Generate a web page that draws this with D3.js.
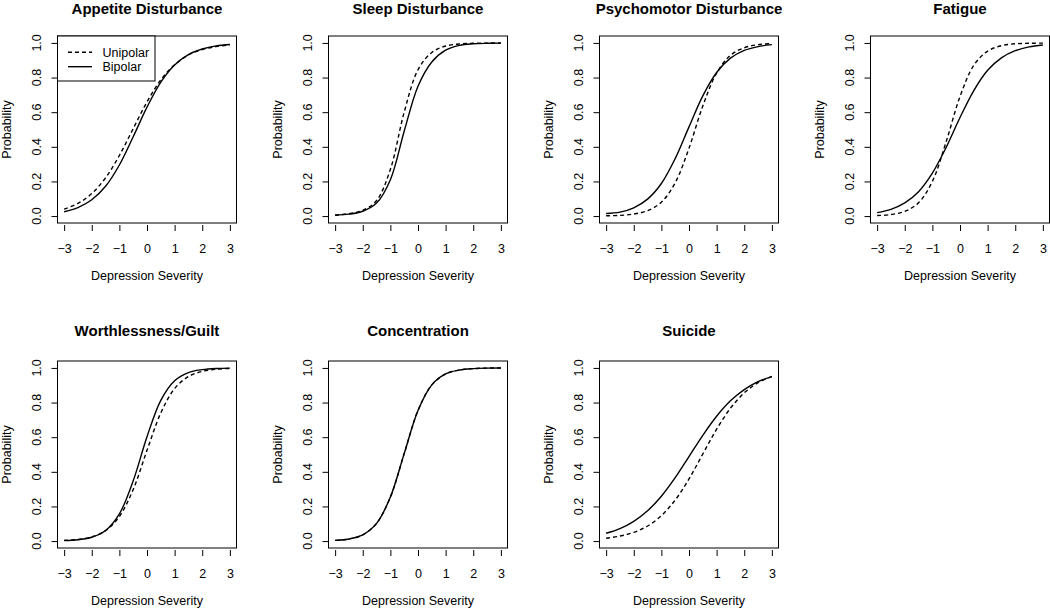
<!DOCTYPE html>
<html><head><meta charset="utf-8">
<script src="https://cdn.jsdelivr.net/npm/d3@7"></script>
<style>
body{margin:0;background:#fff}
svg{display:block}
text{font-family:"Liberation Sans",Arial,Helvetica,sans-serif;fill:#000}
</style>
</head><body>
<svg id="chart" width="1050" height="608"></svg>
<script>
// ---- data ----
const severity = [-3, -2.5, -2, -1.5, -1, -0.5, 0, 0.5, 1, 1.5, 2, 2.5, 3];
const titles = ["Appetite Disturbance", "Sleep Disturbance", "Psychomotor Disturbance", "Fatigue",
                "Worthlessness/Guilt", "Concentration", "Suicide"];
const legendLabels = ["Unipolar", "Bipolar"];
const xTicks = [-3, -2, -1, 0, 1, 2, 3];
const yTicks = [0, 0.2, 0.4, 0.6, 0.8, 1.0];
const xLabel = "Depression Severity";
const yLabel = "Probability";

const appetiteUnipolar    = [0.040, 0.073, 0.130, 0.221, 0.350, 0.505, 0.659, 0.786, 0.874, 0.930, 0.962, 0.979, 0.989];
const appetiteBipolar     = [0.025, 0.049, 0.094, 0.172, 0.295, 0.458, 0.629, 0.774, 0.873, 0.933, 0.965, 0.983, 0.991];
const sleepUnipolar       = [0.006, 0.014, 0.033, 0.090, 0.270, 0.600, 0.845, 0.945, 0.982, 0.994, 0.998, 0.999, 1.000];
const sleepBipolar        = [0.005, 0.011, 0.028, 0.075, 0.210, 0.490, 0.750, 0.890, 0.958, 0.986, 0.995, 0.998, 0.999];
const psychomotorUnipolar = [0.002, 0.004, 0.012, 0.031, 0.080, 0.192, 0.392, 0.636, 0.826, 0.928, 0.972, 0.990, 0.996];
const psychomotorBipolar  = [0.015, 0.023, 0.048, 0.098, 0.188, 0.332, 0.515, 0.694, 0.829, 0.912, 0.957, 0.979, 0.990];
const fatigueUnipolar     = [0.003, 0.009, 0.027, 0.077, 0.200, 0.430, 0.690, 0.871, 0.953, 0.984, 0.995, 0.998, 0.999];
const fatigueBipolar      = [0.020, 0.039, 0.076, 0.141, 0.248, 0.397, 0.569, 0.725, 0.842, 0.914, 0.955, 0.977, 0.988];
const worthUnipolar       = [0.004, 0.009, 0.024, 0.060, 0.142, 0.298, 0.524, 0.740, 0.881, 0.950, 0.980, 0.992, 0.997];
const worthBipolar        = [0.003, 0.008, 0.022, 0.061, 0.157, 0.348, 0.603, 0.813, 0.926, 0.973, 0.990, 0.997, 0.999];
const concUnipolar        = [0.004, 0.012, 0.036, 0.102, 0.254, 0.505, 0.754, 0.902, 0.965, 0.988, 0.996, 0.999, 1.000];
const concBipolar         = [0.004, 0.012, 0.036, 0.102, 0.254, 0.505, 0.754, 0.902, 0.965, 0.988, 0.996, 0.999, 1.000];
const suicideUnipolar     = [0.016, 0.029, 0.050, 0.087, 0.147, 0.237, 0.359, 0.503, 0.646, 0.767, 0.856, 0.915, 0.951];
const suicideBipolar      = [0.045, 0.072, 0.114, 0.175, 0.259, 0.366, 0.488, 0.611, 0.721, 0.810, 0.875, 0.921, 0.950];

const unipolarSeries = [appetiteUnipolar, sleepUnipolar, psychomotorUnipolar, fatigueUnipolar, worthUnipolar, concUnipolar, suicideUnipolar];
const bipolarSeries  = [appetiteBipolar, sleepBipolar, psychomotorBipolar, fatigueBipolar, worthBipolar, concBipolar, suicideBipolar];

// ---- layout ----
const svg = d3.select("#chart");
const W = 179, H = 187;
const colLeft = [57.5, 328.5, 599.5, 870.5];
const rowTop = [36, 361];
const titleOffset = [-22, -25];

const x = d3.scaleLinear().domain([-3.24, 3.24]).range([0, W]);
const y = d3.scaleLinear().domain([-0.04, 1.04]).range([H, 0]);
const line = d3.line().x(d => x(d[0])).y(d => y(d[1])).curve(d3.curveCatmullRom.alpha(0.5));
const fmtX = d3.format("d");
const fmtY = d3.format(".1f");

titles.forEach((title, i) => {
  const r = Math.floor(i / 4), c = i % 4;
  const g = svg.append("g").attr("transform", `translate(${colLeft[c]},${rowTop[r]})`);

  // curves
  const uni = severity.map((s, k) => [s, unipolarSeries[i][k]]);
  const bi  = severity.map((s, k) => [s, bipolarSeries[i][k]]);
  g.append("path").attr("d", line(bi)).attr("fill", "none").attr("stroke", "#000").attr("stroke-width", 1.4);
  g.append("path").attr("d", line(uni)).attr("fill", "none").attr("stroke", "#000").attr("stroke-width", 1.4)
    .attr("stroke-dasharray", "4,3");

  // box
  g.append("rect").attr("x", 0).attr("y", 0).attr("width", W).attr("height", H)
    .attr("fill", "none").attr("stroke", "#000").attr("stroke-width", 1);

  // x axis ticks
  const xa = g.append("g").attr("transform", `translate(0,${H + 2})`)
    .call(d3.axisBottom(x).tickValues(xTicks).tickSize(6).tickPadding(13).tickFormat(fmtX));
  xa.select(".domain").remove();
  xa.selectAll("line").attr("stroke", "#000");
  xa.selectAll("text").style("font-size", "12.5px").style("font-family", '"Liberation Sans",Arial,sans-serif').attr("fill", "#000");

  // y axis ticks
  const ya = g.append("g")
    .call(d3.axisLeft(y).tickValues(yTicks).tickSize(6).tickFormat(""));
  ya.select(".domain").remove();
  ya.selectAll("line").attr("stroke", "#000");
  yTicks.forEach(v => {
    g.append("text").attr("transform", `translate(-16.5,${y(v)}) rotate(-90)`)
      .attr("text-anchor", "middle").style("font-size", "12.5px").text(fmtY(v));
  });

  // labels
  g.append("text").attr("x", W / 2).attr("y", H + 57).attr("text-anchor", "middle")
    .style("font-size", "12.5px").text(xLabel);
  g.append("text").attr("transform", `translate(-46.5,${H / 2}) rotate(-90)`)
    .attr("text-anchor", "middle").style("font-size", "12.5px").text(yLabel);
  g.append("text").attr("x", W / 2).attr("y", titleOffset[r]).attr("text-anchor", "middle")
    .style("font-size", "15px").style("font-weight", "bold").text(title);

  // legend in the first panel
  if (i === 0) {
    const lg = g.append("g");
    lg.append("rect").attr("x", 0).attr("y", 0).attr("width", 97.5).attr("height", 45)
      .attr("fill", "#fff").attr("stroke", "#000").attr("stroke-width", 1);
    legendLabels.forEach((lab, k) => {
      const ly = 16.3 + k * 14.4;
      lg.append("line").attr("x1", 10.5).attr("x2", 34.5).attr("y1", ly).attr("y2", ly)
        .attr("stroke", "#000").attr("stroke-width", 1.4)
        .attr("stroke-dasharray", k === 0 ? "4,3" : null);
      lg.append("text").attr("x", 45).attr("y", ly + 4.5).style("font-size", "12.5px").text(lab);
    });
  }
});
</script>
</body></html>
